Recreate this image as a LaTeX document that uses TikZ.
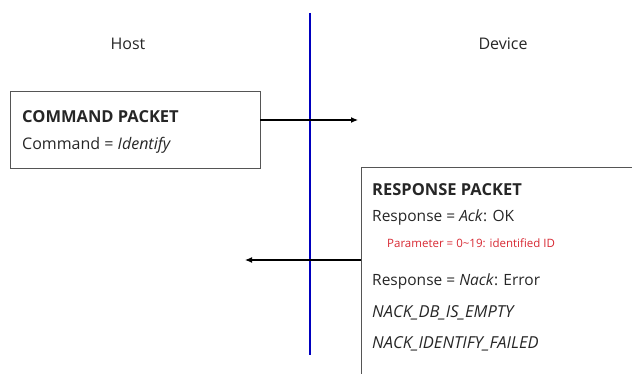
\documentclass[tikz,border=0pt]{standalone}
\usepackage{fontspec}
\setmainfont{Open Sans}
\usetikzlibrary{arrows.meta,positioning}
\definecolor{boxline}{RGB}{85,85,85}
\definecolor{paramred}{RGB}{215,40,50}
\newcommand{\pktFont}{\fontsize{15.5}{18}\selectfont}
\newcommand{\sideFont}{\fontsize{16}{18}\selectfont}

\tikzset{
  packetbox/.style={draw=boxline, line width=1.3pt, minimum width=250pt, minimum height=77pt, inner sep=0pt},
  pktline/.style={anchor=west, inner sep=0pt, font=\pktFont, text=black!85},
  msgarrow/.style={-{Latex[length=7pt,width=6pt]}, line width=1.1pt},
}

\begin{document}
\begin{tikzpicture}[x=1pt, y=-1pt]
         \clip (0,0) rectangle (632,374);

         % host / device split
         \draw[blue!75!black, line width=1.4pt] (310,13) -- (310,355);
         \node (host)   [font=\sideFont, text=black!85] at (128,44) {Host};
         \node (device) [font=\sideFont, text=black!85] at (503,44) {Device};

         % command packet
         \node (cmdbox) [packetbox, anchor=north west] at (10,91) {};
         \node (cmdtitle) [pktline, font=\fontsize{16.5}{18}\selectfont\bfseries] at (22,117) {COMMAND PACKET};
         \node (cmdline)  [pktline, font=\fontsize{16}{18}\selectfont] at (22,145) {Command = \textit{Identify}};
         \coordinate (cmdout) at (260,120);
         \coordinate (cmdin)  at (358,120);
         \draw[msgarrow] (cmdout) -- (cmdin);

         % response packet (runs off the page)
         \node (rspbox) [packetbox, anchor=north west, minimum width=300pt, minimum height=230pt] at (361,167) {};
         \node (rsptitle) [pktline, font=\fontsize{16.5}{18}\selectfont\bfseries] at (372,190) {RESPONSE PACKET};
         \node (rspack)   [pktline] at (372,217) {Response = \textit{Ack}: OK};
         \node (rspparam) [pktline, font=\fontsize{11.5}{13}\selectfont, text=paramred] at (387,243) {Parameter = 0\textasciitilde19: identified ID};
         \node (rspnack)  [pktline] at (372,281) {Response = \textit{Nack}: Error};
         \node (rsperr1)  [pktline, font=\fontsize{16.5}{18}\selectfont\itshape] at (372,313) {NACK\_DB\_IS\_EMPTY};
         \node (rsperr2)  [pktline, font=\fontsize{16.5}{18}\selectfont\itshape] at (372,344) {NACK\_IDENTIFY\_FAILED};
         \coordinate (rspout) at (361,260);
         \coordinate (rspin)  at (245,260);
         \draw[msgarrow] (rspout) -- (rspin);
      \end{tikzpicture}
\end{document}
